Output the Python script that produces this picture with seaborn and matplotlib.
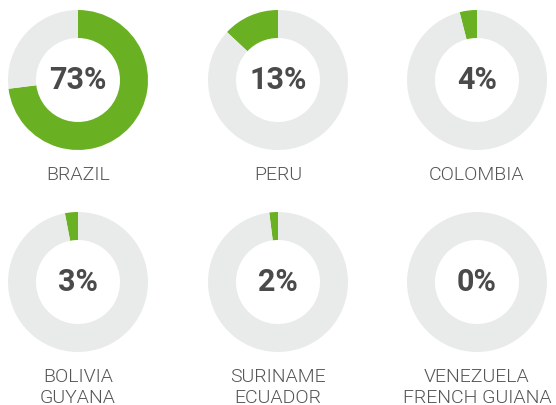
import os
import matplotlib
matplotlib.use("Agg")
import matplotlib.pyplot as plt
from matplotlib import font_manager as fm
import seaborn as sns

countries = ["BRAZIL", "PERU", "COLOMBIA", "BOLIVIA\nGUYANA", "SURINAME\nECUADOR", "VENEZUELA\nFRENCH GUIANA"]
shares = [73, 13, 4, 3, 2, 0]
clockwise = [True, False, False, False, False, False]

sns.set_theme(style="white")
plt.rcParams['font.family'] = ['Roboto', 'DejaVu Sans']

light_path = "/usr/share/fonts/truetype/roboto/unhinted/RobotoTTF/Roboto-Light.ttf"
if os.path.exists(light_path):
    label_font = fm.FontProperties(fname=light_path, size=14)
else:
    label_font = fm.FontProperties(family=['Roboto', 'DejaVu Sans'], weight='normal', size=14)

W, H = 556, 405
fig = plt.figure(figsize=(W / 100, H / 100), dpi=100)
fig.patch.set_facecolor("white")

green, grey = sns.color_palette(["#6ab023", "#e9ebea"])
centers_x = [78, 278, 477]
centers_y = [80, 282]
R = 70

for i, (name, v) in enumerate(zip(countries, shares)):
    cx = centers_x[i % 3]
    cy = centers_y[i // 3]
    ax = fig.add_axes([(cx - R) / W, 1 - (cy + R) / H, 2 * R / W, 2 * R / H])
    ax.pie([v, 100 - v], colors=[green, grey], startangle=90,
           counterclock=not clockwise[i], radius=1,
           wedgeprops=dict(width=0.4, linewidth=0))
    ax.set_aspect("equal")
    ax.set_xlim(-1, 1)
    ax.set_ylim(-1, 1)
    ax.axis("off")
    ax.text(0, 0, f"{v}%", ha="center", va="center", fontsize=22,
            fontweight="bold", color="#4a4a4a")
    fig.text(cx / W, 1 - (cy + 86) / H, name, ha="center", va="top",
             fontproperties=label_font, color="#555555", linespacing=1.18)

fig.savefig("out.png", dpi=100, facecolor="white")
